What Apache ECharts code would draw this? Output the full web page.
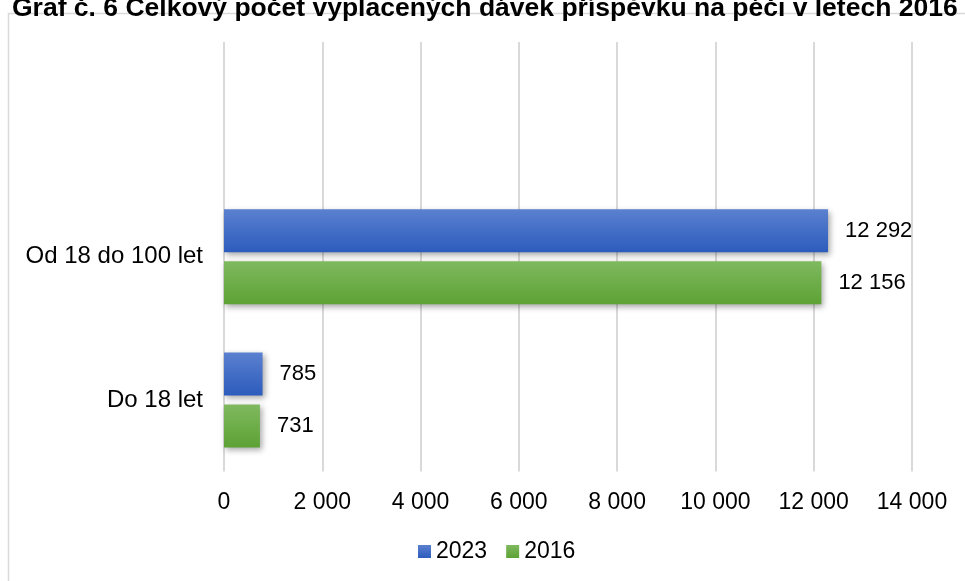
<!DOCTYPE html>
<html>
<head>
<meta charset="utf-8">
<script src="https://cdn.jsdelivr.net/npm/echarts@6/dist/echarts.min.js"></script>
<style>
html,body{margin:0;padding:0;background:#fff}
#chart{width:965px;height:581px}
</style>
</head>
<body>
<div id="chart"></div>
<script>
// kategorie shora dolu (prvni je prazdna)
const categories = ['', 'Od 18 do 100 let', 'Do 18 let'];
const values2023 = ['-', 12292, 785];
const values2016 = ['-', 12156, 731];
const tickMax = 14000;
const tickStep = 2000;

const fmt = v => String(v).replace(/\B(?=(\d{3})+(?!\d))/g, ' ');

const chart = echarts.init(document.getElementById('chart'));

const grad = (top, bottom) => new echarts.graphic.LinearGradient(0, 0, 0, 1, [
  { offset: 0, color: top },
  { offset: 1, color: bottom }
]);

const barStyle = (top, bottom) => ({
  color: grad(top, bottom),
  shadowColor: 'rgba(0,0,0,0.35)',
  shadowBlur: 6,
  shadowOffsetX: 2,
  shadowOffsetY: 3
});

const valueLabel = {
  show: true, position: 'right', distance: 17, fontSize: 22, color: '#000',
  formatter: p => fmt(p.value)
};

const option = {
  backgroundColor: '#fff',
  animation: false,
  textStyle: { fontFamily: 'Liberation Sans, Arial, sans-serif' },
  title: {
    text: 'Graf č. 6 Celkový počet vyplacených dávek příspěvku na péči v letech 2016 a 2023',
    left: 7,
    top: -10,
    textStyle: { fontSize: 26.5, fontWeight: 'bold', color: '#000', fontFamily: 'Liberation Sans, Arial, sans-serif' }
  },
  graphic: [{
    type: 'rect',
    shape: { x: 8.5, y: 13.5, width: 1000, height: 1000 },
    style: { fill: 'none', stroke: '#d9d9d9', lineWidth: 1.5 },
    silent: true
  }],
  legend: {
    data: ['2023', '2016'],
    top: 535,
    left: 413,
    itemWidth: 13,
    itemHeight: 13,
    itemGap: 19,
    icon: 'rect',
    textStyle: { fontSize: 23, color: '#000' }
  },
  grid: { left: 224, right: 53, top: 42, bottom: 109.5 },
  xAxis: {
    type: 'value',
    min: 0,
    max: tickMax,
    interval: tickStep,
    axisLine: { show: false },
    axisTick: { show: false },
    axisLabel: { fontSize: 23, color: '#000', margin: 20, formatter: fmt },
    splitLine: { lineStyle: { color: '#d9d9d9', width: 2 } }
  },
  yAxis: {
    type: 'category',
    data: categories,
    inverse: true,
    axisLine: { show: false },
    axisTick: { show: false },
    axisLabel: { fontSize: 24, color: '#000', margin: 21 }
  },
  series: [
    {
      name: '2023',
      type: 'bar',
      data: values2023,
      barWidth: 43,
      barGap: '21%',
      itemStyle: barStyle('#5b80cf', '#2c5cbd'),
      label: valueLabel
    },
    {
      name: '2016',
      type: 'bar',
      data: values2016,
      barWidth: 43,
      barGap: '21%',
      itemStyle: barStyle('#7fb95f', '#5da234'),
      label: valueLabel
    }
  ]
};

chart.setOption(option);
</script>
</body>
</html>
